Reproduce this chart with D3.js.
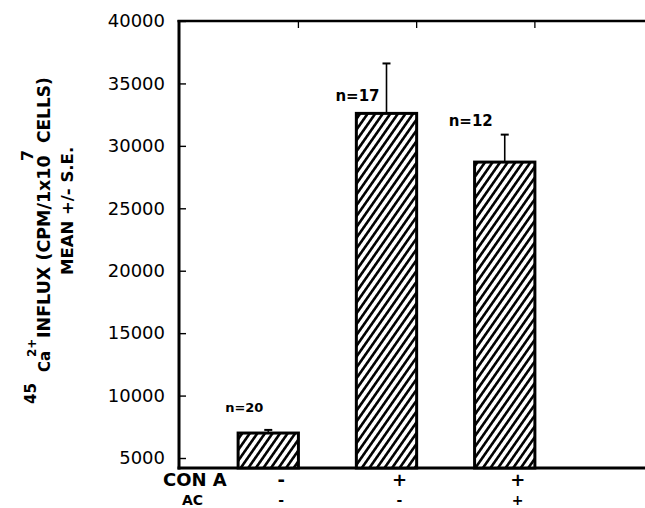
<!DOCTYPE html>
<html>
<head>
<meta charset="utf-8">
<script src="https://cdn.jsdelivr.net/npm/d3@7"></script>
<style>
  body { margin: 0; background: #fff; }
  svg { display: block; font-family: "DejaVu Sans", sans-serif; }
</style>
</head>
<body>
<div id="chart"></div>
<script>
// Chart values.
var groups = ["control", "conA", "conA+AC"];
var conALabels = ["-", "+", "+"];
var acLabels = ["-", "-", "+"];
var meanInflux = [7000, 32600, 28700];
var seInflux = [250, 4000, 2200];
var nLabels = ["n=20", "n=17", "n=12"];
var yTicks = [5000, 10000, 15000, 20000, 25000, 30000, 35000, 40000];

var svgWidth = 645;
var svgHeight = 508;
var margin = { top: 21, right: 0, bottom: 40, left: 179 };
var chartHeight = svgHeight - margin.top - margin.bottom;

var svg = d3.select("#chart").append("svg").attr("width", svgWidth).attr("height", svgHeight);

// Diagonal hatch for the bars.
var defs = svg.append("defs");
var pat = defs.append("pattern")
    .attr("id", "hatch")
    .attr("patternUnits", "userSpaceOnUse")
    .attr("width", 6.2).attr("height", 6.2)
    .attr("patternTransform", "rotate(35)");
pat.append("rect").attr("width", 6.2).attr("height", 6.2).attr("fill", "#fff");
pat.append("line").attr("x1", 3.1).attr("y1", -1).attr("x2", 3.1).attr("y2", 7.2)
    .attr("stroke", "#000").attr("stroke-width", 2.6);

var chartGroup = svg.append("g").attr("transform", `translate(${margin.left},${margin.top})`);

var xScale = d3.scaleBand().domain(groups).range([0, 415]).paddingInner(0.49).paddingOuter(0.5);
var yScale = d3.scaleLinear().domain([4200, 40000]).range([chartHeight, 0]);

var data = groups.map((g, i) => ({ g: g, mean: meanInflux[i], se: seInflux[i], n: nLabels[i], conA: conALabels[i], ac: acLabels[i] }));

// Left axis with small inside ticks.
var leftAxis = d3.axisLeft(yScale).tickValues(yTicks).tickSize(-7).tickPadding(14).tickFormat(d3.format("d"));
var yAxis = chartGroup.append("g").call(leftAxis);
yAxis.select(".domain").remove();
yAxis.selectAll(".tick line").attr("stroke", "#000").attr("stroke-width", 1.4);
yAxis.selectAll(".tick text").attr("font-size", "18px").attr("font-family", "DejaVu Sans").attr("fill", "#000");

// Frame lines: left, top and bottom.
chartGroup.append("line").attr("x1", 0).attr("x2", 0).attr("y1", -1).attr("y2", chartHeight + 1.5)
    .attr("stroke", "#000").attr("stroke-width", 3);
chartGroup.append("line").attr("x1", -1.5).attr("x2", svgWidth - margin.left).attr("y1", 0).attr("y2", 0)
    .attr("stroke", "#000").attr("stroke-width", 2.6);
chartGroup.append("line").attr("x1", -1.5).attr("x2", svgWidth - margin.left).attr("y1", chartHeight).attr("y2", chartHeight)
    .attr("stroke", "#000").attr("stroke-width", 3);

// Small ticks under the top line.
chartGroup.selectAll(".topTick").data(groups).enter().append("line")
    .attr("x1", d => xScale(d) + xScale.bandwidth()).attr("x2", d => xScale(d) + xScale.bandwidth())
    .attr("y1", 0).attr("y2", 7)
    .attr("stroke", "#000").attr("stroke-width", 1.3);

// Bars.
chartGroup.selectAll(".bar").data(data).enter().append("rect")
    .attr("x", d => xScale(d.g))
    .attr("y", d => yScale(d.mean))
    .attr("width", xScale.bandwidth())
    .attr("height", d => chartHeight - yScale(d.mean))
    .attr("fill", "url(#hatch)")
    .attr("stroke", "#000").attr("stroke-width", 3);

// Error bars (upper half only).
var cx = d => xScale(d.g) + xScale.bandwidth() / 2;
chartGroup.selectAll(".err").data(data).enter().append("line")
    .attr("x1", cx).attr("x2", cx)
    .attr("y1", d => yScale(d.mean)).attr("y2", d => yScale(d.mean + d.se))
    .attr("stroke", "#000").attr("stroke-width", 1.6);
chartGroup.selectAll(".cap").data(data).enter().append("line")
    .attr("x1", d => cx(d) - 4).attr("x2", d => cx(d) + 4)
    .attr("y1", d => yScale(d.mean + d.se)).attr("y2", d => yScale(d.mean + d.se))
    .attr("stroke", "#000").attr("stroke-width", 2);

// n labels, placed to the upper left of each bar.
var nOffset = [{ dx: -24, dy: -21 }, { dx: -29, dy: -12 }, { dx: -34, dy: -36 }];
chartGroup.selectAll(".nlab").data(data).enter().append("text")
    .attr("x", (d, i) => cx(d) + nOffset[i].dx)
    .attr("y", (d, i) => yScale(d.mean) + nOffset[i].dy)
    .attr("text-anchor", "middle")
    .attr("font-size", (d, i) => i == 0 ? "13px" : "15px")
    .attr("font-weight", "bold")
    .text(d => d.n);

// Treatment rows under the axis.
var row1 = 486, row2 = 504.5;
svg.append("text").attr("x", 163).attr("y", row1).attr("font-size", "18px").attr("font-weight", "bold").text("CON A");
svg.append("text").attr("x", 182).attr("y", row2).attr("font-size", "14px").attr("font-weight", "bold").text("AC");
chartGroup.selectAll(".conA").data(data).enter().append("text")
    .attr("x", d => cx(d) + 13).attr("y", row1 - margin.top)
    .attr("text-anchor", "middle").attr("font-size", "18px").attr("font-weight", "bold")
    .text(d => d.conA);
chartGroup.selectAll(".ac").data(data).enter().append("text")
    .attr("x", d => cx(d) + 13).attr("y", row2 - margin.top)
    .attr("text-anchor", "middle").attr("font-size", "14px").attr("font-weight", "bold")
    .text(d => d.ac);

// Rotated y-axis title: 45Ca2+ INFLUX (CPM/1x10^7 CELLS) / MEAN +/- S.E.
var yTitle = svg.append("g").attr("transform", "rotate(-90)").attr("font-weight", "bold");
function titlePart(str, fromY, baseX, size) {
    yTitle.append("text").attr("x", -fromY).attr("y", baseX).attr("font-size", size + "px").text(str);
}
titlePart("45", 404, 35.5, 15);
titlePart("Ca", 372, 49.5, 15);
titlePart("2+", 357, 35.5, 12);
titlePart("INFLUX (CPM/1x10", 338, 49.5, 17.5);
titlePart("7", 161, 33, 16);
titlePart("CELLS)", 143, 49.5, 17);
titlePart("MEAN +/- S.E.", 275, 72.5, 16.5);
</script>
</body>
</html>
